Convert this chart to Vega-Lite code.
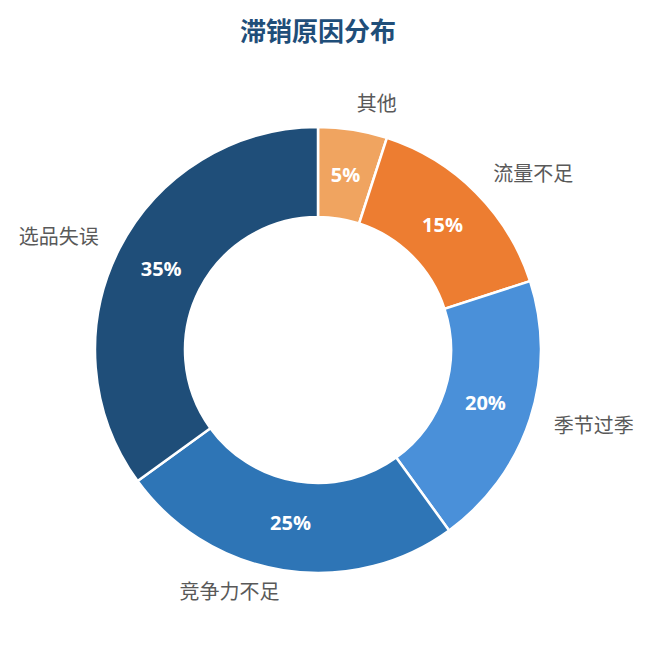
{
  "$schema": "https://vega.github.io/schema/vega-lite/v6.json",
  "autosize": "none",
  "background": "white",
  "padding": {"top": 60, "left": 0, "right": 15, "bottom": 5},
  "width": 636,
  "height": 580,
  "title": {
    "text": "滞销原因分布",
    "font": "Noto Sans CJK SC",
    "fontSize": 26,
    "fontWeight": "bold",
    "color": "#1f4e79",
    "anchor": "middle",
    "offset": 14
  },
  "data": {
    "values": [
      {"category": "其他", "share": 0.05, "rank": 1},
      {"category": "流量不足", "share": 0.15, "rank": 2},
      {"category": "季节过季", "share": 0.2, "rank": 3},
      {"category": "竞争力不足", "share": 0.25, "rank": 4},
      {"category": "选品失误", "share": 0.35, "rank": 5}
    ]
  },
  "encoding": {
    "theta": {"field": "share", "type": "quantitative", "stack": true},
    "order": {"field": "rank", "type": "quantitative"},
    "color": {
      "field": "category",
      "type": "nominal",
      "legend": null,
      "scale": {
        "domain": ["其他", "流量不足", "季节过季", "竞争力不足", "选品失误"],
        "range": ["#f0a460", "#ed7d31", "#4a90d9", "#2e75b6", "#1f4e79"]
      }
    }
  },
  "layer": [
    {
      "mark": {"type": "arc", "innerRadius": 133, "outerRadius": 223, "stroke": "white", "strokeWidth": 2.5}
    },
    {
      "mark": {"type": "text", "radius": 176, "font": "Open Sans", "fontSize": 20, "fontWeight": "bold"},
      "encoding": {
        "text": {"field": "share", "type": "quantitative", "format": ".0%"},
        "color": {"value": "white"}
      }
    },
    {
      "mark": {"type": "text", "radius": 248, "align": "left", "font": "Noto Sans CJK SC", "fontSize": 20},
      "encoding": {
        "text": {"condition": {"test": "datum.rank <= 3", "field": "category"}, "value": ""},
        "color": {"value": "#595959"}
      }
    },
    {
      "mark": {"type": "text", "radius": 246, "align": "right", "font": "Noto Sans CJK SC", "fontSize": 20},
      "encoding": {
        "text": {"condition": {"test": "datum.rank > 3", "field": "category"}, "value": ""},
        "color": {"value": "#595959"}
      }
    }
  ]
}
